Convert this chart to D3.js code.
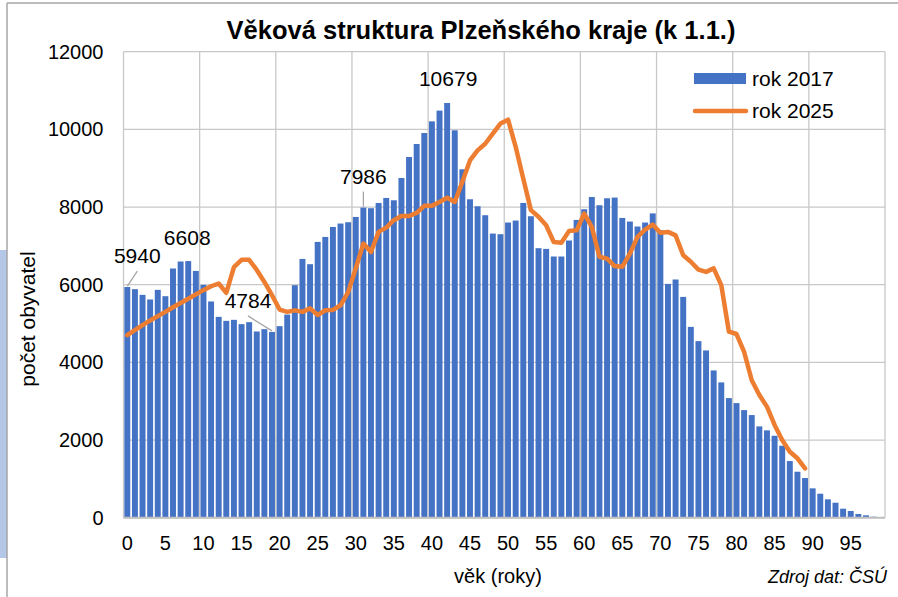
<!DOCTYPE html>
<html>
<head>
<meta charset="utf-8">
<script src="https://d3js.org/d3.v7.min.js"></script>
<style>
  body { margin: 0; background: #fff; }
  text { font-family: "Liberation Sans", Arial, sans-serif; fill: #000; }
</style>
</head>
<body>
<svg id="chart" width="898" height="597"></svg>
<script>
// ages 0..99 (bars, rok 2017)
var ages = d3.range(0, 100);
var rok2017 = [
  5940, 5885, 5738, 5619, 5867, 5704, 6417, 6597, 6608, 6355,
  5995, 5568, 5172, 5069, 5095, 4984, 5035, 4795, 4855, 4784,
  4932, 5230, 5987, 6664, 6528, 7102, 7230, 7487, 7575, 7608,
  7745, 7986, 7970, 8105, 8234, 8174, 8748, 9289, 9623, 9906,
  10207, 10483, 10679, 9976, 8972, 8200, 8020, 7789, 7317, 7300,
  7601, 7652, 8105, 7763, 6940, 6922, 6726, 6726, 7138, 7668,
  7943, 8259, 8046, 8226, 8244, 7719, 7626, 7498, 7601, 7836,
  7402, 6021, 6134, 5686, 4914, 4547, 4307, 3792, 3484, 3080,
  2951, 2771, 2643, 2351, 2249, 2110, 1853, 1459, 1184, 1021,
  756, 618, 473, 386, 232, 172, 95, 62, 26, 10
];
// line (rok 2025), ages 0..89
var rok2025 = [
  4700, 4830, 4960, 5080, 5190, 5300, 5420, 5530, 5640, 5750,
  5860, 5960, 6030, 5790, 6450, 6640, 6640, 6380, 6070, 5730,
  5360, 5300, 5340, 5300, 5390, 5220, 5340, 5350, 5470, 5810,
  6420, 7060, 6840, 7360, 7470, 7660, 7770, 7770, 7850, 8030,
  8030, 8130, 8240, 8130, 8650, 9200, 9460, 9630, 9890, 10150,
  10250, 9550, 8730, 7920, 7750, 7530, 7100, 7080, 7380, 7400,
  7830, 7490, 6720, 6670, 6480, 6460, 6800, 7230, 7420, 7550,
  7340, 7360, 7270, 6760, 6590, 6390, 6330, 6420, 5990, 4790,
  4730, 4270, 3540, 3160, 2860, 2390, 2000, 1700, 1530, 1270
];
var seriesNames = ["rok 2017", "rok 2025"];
var yTicks = [0, 2000, 4000, 6000, 8000, 10000, 12000];
var xTickAges = d3.range(0, 100, 5);
var gridAges = d3.range(0, 101, 10);
// ages whose 2017 value is labelled
var labelAges = [0, 8, 19, 31, 42];

var titleText = "Věková struktura Plzeňského kraje (k 1.1.)";
var yTitle = "počet obyvatel";
var xTitle = "věk (roky)";
var sourceText = "Zdroj dat: ČSÚ";

function draw() {
  var blue = "#4472c4", orange = "#ed7d31", grid = "#c8c8c8";
  var svg = d3.select("#chart");

  // frame + side strip
  svg.append("rect").attr("x", 0).attr("y", 250).attr("width", 7).attr("height", 308).attr("fill", "#b4c7e7");
  svg.append("line").attr("x1", 7).attr("y1", 3).attr("x2", 7).attr("y2", 597).attr("stroke", "#a6a6a6").attr("stroke-width", 1.5);
  svg.append("line").attr("x1", 7).attr("y1", 3).attr("x2", 898).attr("y2", 3).attr("stroke", "#a6a6a6").attr("stroke-width", 1.5);

  var pLeft = 123.5, pRight = 885, pTop = 51.7, pBottom = 517.7;

  var x = d3.scaleBand().domain(ages).range([pLeft, pRight]).paddingInner(0.22).paddingOuter(0.11);
  var y = d3.scaleLinear().domain([0, 12000]).range([pBottom, pTop]);
  var step = x.step();
  function xc(a) { return x(a) + x.bandwidth() / 2; }

  // grid
  svg.append("g").selectAll("line").data(yTicks).enter().append("line")
    .attr("x1", pLeft).attr("x2", pRight)
    .attr("y1", d => y(d)).attr("y2", d => y(d))
    .attr("stroke", grid).attr("stroke-width", 1.3);
  svg.append("g").selectAll("line").data(gridAges).enter().append("line")
    .attr("x1", d => pLeft + d * step).attr("x2", d => pLeft + d * step)
    .attr("y1", pTop).attr("y2", pBottom)
    .attr("stroke", grid).attr("stroke-width", 1.3);

  // bars
  svg.append("g").selectAll("rect").data(ages).enter().append("rect")
    .attr("x", d => x(d))
    .attr("y", d => y(rok2017[d]))
    .attr("width", x.bandwidth())
    .attr("height", d => pBottom - y(rok2017[d]))
    .attr("fill", blue);

  // x axis line
  svg.append("line").attr("x1", pLeft).attr("x2", pRight).attr("y1", pBottom).attr("y2", pBottom)
    .attr("stroke", "#bfbfbf").attr("stroke-width", 2);

  // line 2025
  var line = d3.line().x((d, i) => xc(i)).y(d => y(d));
  svg.append("path").datum(rok2025)
    .attr("d", line)
    .attr("fill", "none")
    .attr("stroke", orange)
    .attr("stroke-width", 4.5)
    .attr("stroke-linejoin", "round")
    .attr("stroke-linecap", "round");

  // axes
  var yAxis = svg.append("g").attr("transform", "translate(" + pLeft + ",0)")
    .call(d3.axisLeft(y).tickValues(yTicks).tickSize(0).tickPadding(20).tickFormat(d3.format("d")));
  yAxis.select(".domain").remove();
  yAxis.selectAll("text").style("font-size", "20px").attr("fill", "#000");

  var xAxis = svg.append("g").attr("transform", "translate(0," + pBottom + ")")
    .call(d3.axisBottom(x).tickValues(xTickAges).tickSize(0).tickPadding(18));
  xAxis.select(".domain").remove();
  xAxis.selectAll("text").style("font-size", "20px").attr("fill", "#000");

  // data labels: [dx, dy, leader line?]
  var labelOffsets = {0: [10, -24, true], 8: [-1, -16, false], 19: [-24, -24, true], 31: [0, -24, true], 42: [1, -17, false]};
  labelAges.forEach(function (a) {
    var off = labelOffsets[a];
    var bx = xc(a), by = y(rok2017[a]);
    if (off[2]) {
      svg.append("line")
        .attr("x1", bx).attr("y1", by - 1)
        .attr("x2", bx + off[0]).attr("y2", by + off[1] + 8)
        .attr("stroke", "#a6a6a6").attr("stroke-width", 1.3);
    }
    svg.append("text")
      .attr("x", bx + off[0]).attr("y", by + off[1])
      .attr("text-anchor", "middle")
      .style("font-size", "21px")
      .text(rok2017[a]);
  });

  // title
  svg.append("text").attr("x", 481).attr("y", 39).attr("text-anchor", "middle")
    .style("font-size", "25.5px").style("font-weight", "bold").text(titleText);

  // axis titles
  svg.append("text").attr("transform", "translate(35,319) rotate(-90)").attr("text-anchor", "middle")
    .style("font-size", "21px").text(yTitle);
  svg.append("text").attr("x", 498).attr("y", 583).attr("text-anchor", "middle")
    .style("font-size", "20px").text(xTitle);
  svg.append("text").attr("x", 887).attr("y", 583).attr("text-anchor", "end")
    .style("font-size", "18px").style("font-style", "italic").text(sourceText);

  // legend
  var lg = svg.append("g");
  lg.append("rect").attr("x", 694).attr("y", 73).attr("width", 52).attr("height", 11).attr("fill", blue);
  lg.append("line").attr("x1", 695).attr("x2", 746).attr("y1", 111).attr("y2", 111)
    .attr("stroke", orange).attr("stroke-width", 4.5).attr("stroke-linecap", "round");
  lg.selectAll("text").data(seriesNames).enter().append("text")
    .attr("x", 752).attr("y", (d, i) => 86 + i * 32)
    .style("font-size", "21px").text(d => d);
}

draw();
</script>
</body>
</html>
